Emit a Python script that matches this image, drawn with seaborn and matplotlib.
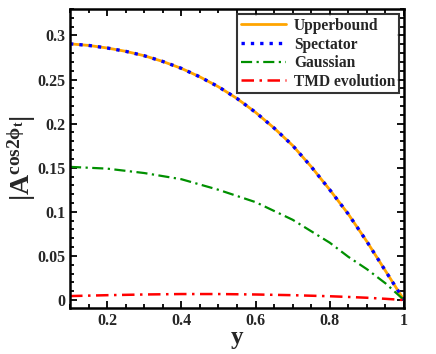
import matplotlib
matplotlib.use("Agg")
import matplotlib.pyplot as plt
import seaborn as sns
import pandas as pd
from matplotlib.ticker import MultipleLocator

x_upper = [0.1, 0.15, 0.2, 0.25, 0.3, 0.35, 0.4, 0.45, 0.5, 0.55, 0.6, 0.65, 0.7, 0.75, 0.8, 0.85, 0.9, 0.95, 1.0]
upperbound = [0.2905, 0.2887, 0.2858, 0.2820, 0.2770, 0.2705, 0.2627, 0.2530, 0.2418, 0.2285, 0.2128, 0.1950, 0.1752, 0.1512, 0.1250, 0.0974, 0.0663, 0.0331, 0.0]
spectator = [0.2905, 0.2887, 0.2858, 0.2820, 0.2770, 0.2705, 0.2627, 0.2530, 0.2418, 0.2285, 0.2128, 0.1950, 0.1752, 0.1512, 0.1250, 0.0974, 0.0663, 0.0331, 0.0]
x_low = [0.1, 0.2, 0.3, 0.4, 0.5, 0.6, 0.7, 0.75, 0.8, 0.85, 0.9, 0.95, 1.0]
gaussian = [0.151, 0.149, 0.144, 0.137, 0.125, 0.111, 0.091, 0.078, 0.065, 0.049, 0.035, 0.019, 0.0]
tmd = [0.0045, 0.0055, 0.0063, 0.0068, 0.0068, 0.0063, 0.0055, 0.0049, 0.0043, 0.0035, 0.0026, 0.0014, 0.0]
labels = ["Upperbound", "Spectator", "Gaussian", "TMD evolution"]
xticks = [0.2, 0.4, 0.6, 0.8, 1.0]
xticklabels = ["0.2", "0.4", "0.6", "0.8", "1"]
yticks = [0, 0.05, 0.1, 0.15, 0.2, 0.25, 0.3]
yticklabels = ["0", "0.05", "0.1", "0.15", "0.2", "0.25", "0.3"]

sns.set_theme(style="ticks")
plt.rcParams["font.family"] = ["Liberation Serif", "DejaVu Serif"]
plt.rcParams["font.weight"] = "bold"
plt.rcParams["mathtext.fontset"] = "custom"
plt.rcParams["mathtext.rm"] = "Liberation Serif:bold"
plt.rcParams["mathtext.it"] = "Liberation Serif:bold"
plt.rcParams["mathtext.bf"] = "Liberation Serif:bold"

fig = plt.figure(figsize=(4.36, 3.54), dpi=100)
ax = fig.add_axes([0.1606, 0.130, 0.766, 0.8446])

df_u = pd.DataFrame({"y": x_upper, "A": upperbound})
df_s = pd.DataFrame({"y": x_upper, "A": spectator})
df_g = pd.DataFrame({"y": x_low, "A": gaussian})
df_t = pd.DataFrame({"y": x_low, "A": tmd})

sns.lineplot(data=df_u, x="y", y="A", ax=ax, color="#FFA500", lw=2.0, label=labels[0])
sns.lineplot(data=df_s, x="y", y="A", ax=ax, color="#0000FF", lw=2.4, label=labels[1],
             linestyle=(0, (1, 1.8)))
sns.lineplot(data=df_g, x="y", y="A", ax=ax, color="#009000", lw=1.6, label=labels[2],
             linestyle=(0, (5, 2, 1, 2)))
sns.lineplot(data=df_t, x="y", y="A", ax=ax, color="#FF0000", lw=1.8, label=labels[3],
             linestyle=(0, (5, 2.2, 1, 2.2)))

ax.set_xlim(0.1, 1.0)
ax.set_ylim(-0.009, 0.33)
ax.set_xticks(xticks)
ax.set_xticklabels(xticklabels)
ax.set_yticks(yticks)
ax.set_yticklabels(yticklabels)
ax.xaxis.set_minor_locator(MultipleLocator(0.05))
ax.yaxis.set_minor_locator(MultipleLocator(0.01))
ax.tick_params(which="both", direction="in", top=True, right=True, labelsize=11.5,
               width=1.3, color="black")
ax.tick_params(which="major", length=5)
ax.tick_params(which="minor", length=3)
for lab in ax.get_xticklabels() + ax.get_yticklabels():
    lab.set_fontweight("bold")
for s in ax.spines.values():
    s.set_linewidth(1.8)
    s.set_color("black")

ax.set_xlabel("y", fontsize=18, fontweight="bold", labelpad=-2)
ax.set_ylabel(r"$|\mathrm{A}^{\mathrm{cos2}\phi_{\mathrm{t}}}|$", fontsize=20, labelpad=-1)

leg = ax.legend(loc="upper right", fontsize=11.2, frameon=True, fancybox=False,
                edgecolor="black", handlelength=2.9, labelspacing=0.17,
                borderpad=0.22, handletextpad=0.5, borderaxespad=0.35)
leg.get_frame().set_linewidth(1.5)
for t in leg.get_texts():
    t.set_fontweight("bold")

fig.savefig("out.png", dpi=100)
